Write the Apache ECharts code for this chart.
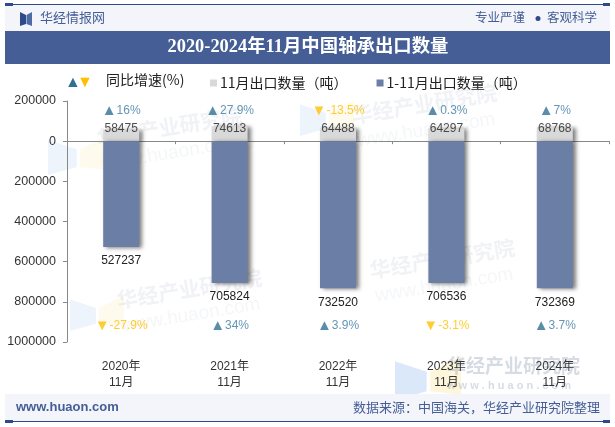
<!DOCTYPE html>
<html><head><meta charset="utf-8">
<style>html,body{margin:0;padding:0;background:#fff}#c{width:615px;height:427px}</style>
<script src="https://cdn.jsdelivr.net/npm/echarts@6/dist/echarts.min.js"></script>
</head><body><div id="c"></div>
<script>
const categories = ["2020年\n11月","2021年\n11月","2022年\n11月","2023年\n11月","2024年\n11月"];
const monthExport = [58475,74613,64488,64297,68768];
const cumulativeExport = [527237,705824,732520,706536,732369];
const monthGrowth = [16,27.9,-13.5,0.3,7];
const cumulativeGrowth = [-27.9,34,3.9,-3.1,3.7];
const yTicks = {min:-200000,max:1000000,interval:200000};
const topRowAnchor = -153000, monthLabelAnchor = -61000, bottomRowAnchor = 918000;

const SANS = '"Liberation Sans","Noto Sans CJK SC",sans-serif';
const CJK = '"Noto Sans CJK SC",sans-serif';
const NAVY = '#455e95', SLATE = '#6b7ea6', GREY = '#d9d9d9', DOWN = '#ffc000';

const growthRich = {
  up:{color:'#2f7094',fontSize:15,fontFamily:SANS},
  dn:{color:DOWN,fontSize:15,fontFamily:SANS},
  ut:{color:'#3d7aa3',fontSize:12,fontFamily:SANS},
  dt:{color:DOWN,fontSize:12,fontFamily:SANS}
};
const growthText = v => v >= 0 ? `{up|▲}{ut|${v}%}` : `{dn|▼}{dt|${v}%}`;
const anchoredLabels = (anchor, formatter, rich) => ({
  type:'scatter', symbolSize:0, silent:true, z:5,
  data:categories.map((c,i)=>[i,anchor]),
  label:{show:true,position:'inside',formatter,rich,fontSize:12,color:'#222',fontFamily:SANS}
});
const mark = (x,y,s,op) => [
  {type:'polygon',z:0,silent:true,shape:{points:[[x,y+s*.12],[x+s*.72,y+s*.36],[x+s*.72,y+s*.8],[x,y+s]]},style:{fill:'#cfe0f7',opacity:op}},
  {type:'polygon',z:0,silent:true,shape:{points:[[x+s*.8,y+s*.36],[x+s*1.5,y],[x+s*1.5,y+s*.88],[x+s*.8,y+s*.8]]},style:{fill:'#fdf3cf',opacity:op}}
];
const water = (x,y,rot) => [
  {type:'text',z:0,silent:true,x,y,rotation:rot,style:{text:'华经产业研究院',fill:'rgba(120,135,165,0.11)',font:'bold 21px '+CJK}},
  {type:'text',z:0,silent:true,x:x+6,y:y+27,rotation:rot,style:{text:'www.huaon.com',fill:'rgba(120,135,165,0.08)',font:'19px '+SANS}}
];

const chart = echarts.init(document.getElementById('c'),null,{renderer:'canvas'});
chart.setOption({
  animation:false,
  backgroundColor:'#fff',
  grid:{left:67,right:6,top:101,bottom:85,outerBoundsMode:'none'},
  legend:{left:205,top:71,itemWidth:7,itemHeight:7,itemGap:29,icon:'rect',
    data:['11月出口数量（吨）','1-11月出口数量（吨）'],
    textStyle:{fontSize:14,color:'#222',fontFamily:CJK,padding:[0,0,0,-2]}},
  xAxis:{type:'category',data:categories,
    axisLine:{onZero:true,lineStyle:{color:'#888',width:1}},
    axisTick:{show:true,length:3,alignWithLabel:false,lineStyle:{color:'#888'}},
    axisLabel:{margin:17,fontSize:12,lineHeight:16,color:'#333',fontFamily:SANS,interval:0}},
  yAxis:{type:'value',inverse:true,min:yTicks.min,max:yTicks.max,interval:yTicks.interval,
    axisLine:{show:true,lineStyle:{color:'#888'}},
    axisTick:{show:true,length:4,lineStyle:{color:'#888'}},
    splitLine:{show:false},
    axisLabel:{fontSize:12.5,margin:11,color:'#333',fontFamily:SANS,formatter:v=>String(Math.abs(v))}},
  series:[
    {name:'11月出口数量（吨）',type:'bar',barWidth:36,barGap:'-100%',
      data:monthExport.map(v=>-v),
      itemStyle:{color:GREY,shadowBlur:4,shadowOffsetX:3,shadowOffsetY:1,shadowColor:'rgba(0,0,0,0.5)'}},
    {name:'1-11月出口数量（吨）',type:'bar',barWidth:36,barGap:'-100%',
      data:cumulativeExport,
      itemStyle:{color:SLATE,shadowBlur:4,shadowOffsetX:3,shadowOffsetY:1,shadowColor:'rgba(0,0,0,0.5)'},
      label:{show:true,position:'bottom',distance:8,fontSize:12,color:'#222',fontFamily:SANS}},
    anchoredLabels(monthLabelAnchor,p=>String(monthExport[p.dataIndex])),
    anchoredLabels(topRowAnchor,p=>growthText(monthGrowth[p.dataIndex]),growthRich),
    anchoredLabels(bottomRowAnchor,p=>growthText(cumulativeGrowth[p.dataIndex]),growthRich)
  ],
  graphic:[
    ...mark(48,135,40,.35), ...water(95,128,.16),
    ...mark(70,295,36,.35), ...water(115,290,.16),
    ...mark(300,100,36,.35), ...water(350,105,.16),
    ...water(368,260,.16),
    ...mark(395,356,44,.75),
    {type:'text',z:0,silent:true,x:447,y:356,style:{text:'华经产业研究院',fill:'rgba(120,135,165,0.30)',font:'bold 19px '+CJK}},
    {type:'text',z:0,silent:true,x:447,y:380,style:{text:'w w w . h u a o n . c o m',fill:'rgba(120,135,165,0.30)',font:'bold 11px '+SANS}},

    {type:'rect',z:1,silent:true,shape:{x:5,y:5,width:605,height:26},style:{fill:'#f3f5fb'}},
    {type:'rect',z:1,silent:true,shape:{x:5,y:394,width:605,height:27},style:{fill:'#f3f5fb'}},
    {type:'rect',z:1,silent:true,shape:{x:5,y:4,width:605,height:1},style:{fill:'#2f4a8a'}},
    {type:'rect',z:1,silent:true,shape:{x:5,y:421,width:605,height:1},style:{fill:'#2f4a8a'}},
    {type:'rect',z:1,silent:true,shape:{x:5,y:3,width:8,height:3},style:{fill:'#2f4a8a'}},
    {type:'rect',z:1,silent:true,shape:{x:603,y:3,width:7,height:3},style:{fill:'#2f4a8a'}},
    {type:'rect',z:1,silent:true,shape:{x:5,y:420,width:8,height:3},style:{fill:'#2f4a8a'}},
    {type:'rect',z:1,silent:true,shape:{x:603,y:420,width:7,height:3},style:{fill:'#2f4a8a'}},
    {type:'rect',z:1,silent:true,shape:{x:5,y:31,width:605,height:33},style:{fill:NAVY}},
    {type:'polygon',z:1,silent:true,shape:{points:[[20,12],[26,15],[26,24],[20,26]]},style:{fill:'#2f4a8a'}},
    {type:'polygon',z:1,silent:true,shape:{points:[[32,12],[26.5,15],[26.5,24],[32,26]]},style:{fill:'#4f6ba6'}},
    {type:'text',z:1,silent:true,x:40,y:11,style:{text:'华经情报网',fill:NAVY,font:'13px '+CJK}},
    {type:'text',z:1,silent:true,x:475,y:11,style:{text:'专业严谨',fill:NAVY,font:'12.5px '+CJK}},
    {type:'circle',z:1,silent:true,shape:{cx:538,cy:18.5,r:2.5},style:{fill:'#2f4a8a'}},
    {type:'text',z:1,silent:true,x:547,y:11,style:{text:'客观科学',fill:NAVY,font:'12.5px '+CJK}},
    {type:'text',z:1,silent:true,x:308,y:47.5,style:{text:'2020-2024年11月中国轴承出口数量',fill:'#fff',align:'center',verticalAlign:'middle',font:'bold 18.4px "Liberation Serif","Noto Sans CJK SC",serif'}},
    {type:'text',z:1,silent:true,x:65,y:75,style:{text:'▲',fill:'#2f7094',font:'16px '+SANS}},
    {type:'text',z:1,silent:true,x:77,y:75,style:{text:'▼',fill:DOWN,font:'16px '+SANS}},
    {type:'text',z:1,silent:true,x:106,y:73,style:{text:'同比增速(%)',fill:'#222',font:'14px '+CJK}},
    {type:'text',z:1,silent:true,x:16,y:401,style:{text:'www.huaon.com',fill:NAVY,font:'bold 13px '+SANS}},
    {type:'text',z:1,silent:true,x:600,y:401,style:{text:'数据来源：中国海关，华经产业研究院整理',fill:NAVY,align:'right',font:'13px '+CJK}}
  ]
});
</script></body></html>
